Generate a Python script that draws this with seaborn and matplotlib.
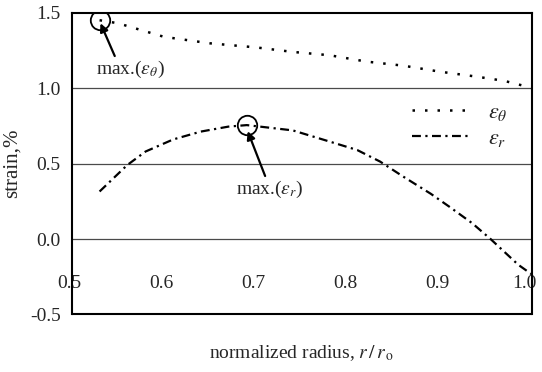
import numpy as np
import pandas as pd
import matplotlib
matplotlib.use("Agg")
import matplotlib.pyplot as plt
import matplotlib.transforms as mtransforms
import seaborn as sns

# Normalized radius r/r0 and strain (%) along the section
r_theta = [0.53, 0.55, 0.60, 0.65, 0.70, 0.74, 0.78, 0.82, 0.86, 0.90, 0.94, 0.97, 0.99, 1.00]
eps_theta = [1.45, 1.43, 1.34, 1.297, 1.27, 1.24, 1.218, 1.176, 1.149, 1.109, 1.076, 1.048, 1.017, 1.00]

r_r = [0.53, 0.56, 0.58, 0.61, 0.64, 0.67, 0.69, 0.74, 0.78, 0.81, 0.835, 0.86,
       0.89, 0.91, 0.935, 0.955, 0.985, 1.00]
eps_r = [0.315, 0.49, 0.58, 0.66, 0.712, 0.745, 0.755, 0.72, 0.646, 0.59, 0.513, 0.414,
         0.30, 0.215, 0.105, 0.0, -0.17, -0.235]

x_ticks = [0.5, 0.6, 0.7, 0.8, 0.9, 1.0]
y_ticks = [-0.5, 0.0, 0.5, 1.0, 1.5]
grid_levels = [0.0, 0.5, 1.0]

sns.set_style("white")
plt.rcParams["font.family"] = ["Liberation Serif", "DejaVu Serif"]
plt.rcParams["mathtext.fontset"] = "stix"
plt.rcParams["axes.unicode_minus"] = False

FS = 14

fig = plt.figure(figsize=(5.42, 3.72), dpi=100)
ax = fig.add_axes([0.1328, 0.1546, 0.8487, 0.8113])

df_t = pd.DataFrame({"r": r_theta, "eps": eps_theta})
df_r = pd.DataFrame({"r": r_r, "eps": eps_r})

for lvl in grid_levels:
    ax.axhline(lvl, color="#4a4a4a", lw=0.9, zorder=1)

sns.lineplot(data=df_t, x="r", y="eps", ax=ax, color="black", lw=1.8,
             linestyle=(0, (1, 4)), label=r"$\varepsilon_\theta$", zorder=3)
sns.lineplot(data=df_r, x="r", y="eps", ax=ax, color="black", lw=1.6,
             linestyle=(0, (4, 2, 1, 2)), label=r"$\varepsilon_r$", zorder=3)

# circle the maximum of each strain component
it = int(np.argmax(eps_theta))
ir = int(np.argmax(eps_r))
for xm, ym in [(r_theta[it], eps_theta[it]), (r_r[ir], eps_r[ir])]:
    ax.plot([xm], [ym], marker="o", ms=14, mfc="none", mec="black", mew=1.3, zorder=4)

arrow = dict(arrowstyle="-|>", lw=1.6, color="black", mutation_scale=12,
             shrinkA=0, shrinkB=0)
ax.annotate(r"max.($\varepsilon_\theta$)", xy=(r_theta[it] + 0.001, eps_theta[it] - 0.02),
            xytext=(0.563, 1.121), ha="center", va="center", fontsize=FS,
            arrowprops=dict(arrow, relpos=(0.3, 1.0)))
ax.annotate(r"max.($\varepsilon_r$)", xy=(r_r[ir] + 0.001, eps_r[ir] - 0.04),
            xytext=(0.715, 0.326), ha="center", va="center", fontsize=FS,
            arrowprops=dict(arrow, relpos=(0.45, 1.0)))

ax.set_xlim(0.5, 1.0)
ax.set_ylim(-0.5, 1.5)

# x axis crosses at zero strain
ax.spines["bottom"].set_position(("data", 0.0))
ax.spines["bottom"].set_visible(False)
ax.axhline(-0.5, color="black", lw=1.5, zorder=5, clip_on=False)
for s in ["left", "right", "top"]:
    ax.spines[s].set_color("black")
    ax.spines[s].set_linewidth(1.5)

ax.set_yticks(y_ticks)
ax.set_yticklabels([f"{v:.1f}" for v in y_ticks])
ax.set_xticks(x_ticks)
ax.set_xticklabels([f"{v:.1f}" for v in x_ticks])
ax.tick_params(axis="x", length=0, pad=26, labelsize=FS)
ax.tick_params(axis="y", length=0, pad=8, labelsize=FS)

# nudge the x tick labels slightly left; the last one stays inside the frame
xlabels = ax.get_xticklabels()
for i, lab in enumerate(xlabels):
    dx = -8 if i == len(xlabels) - 1 else -3
    shift = mtransforms.ScaledTranslation(dx / 100, 0, fig.dpi_scale_trans)
    lab.set_transform(lab.get_transform() + shift)

ax.set_xlabel(r"normalized radius, $r\,/\,r_{\,\mathrm{o}}$", fontsize=FS)
ax.xaxis.set_label_coords(0.5, -0.095)
ax.set_ylabel("strain,%", fontsize=FS + 1, labelpad=6)

leg = ax.legend(loc="center left", bbox_to_anchor=(0.72, 0.625), frameon=False,
                fontsize=16, handlelength=2.6, labelspacing=0.25, borderaxespad=0)

fig.savefig("out.png", dpi=100)
